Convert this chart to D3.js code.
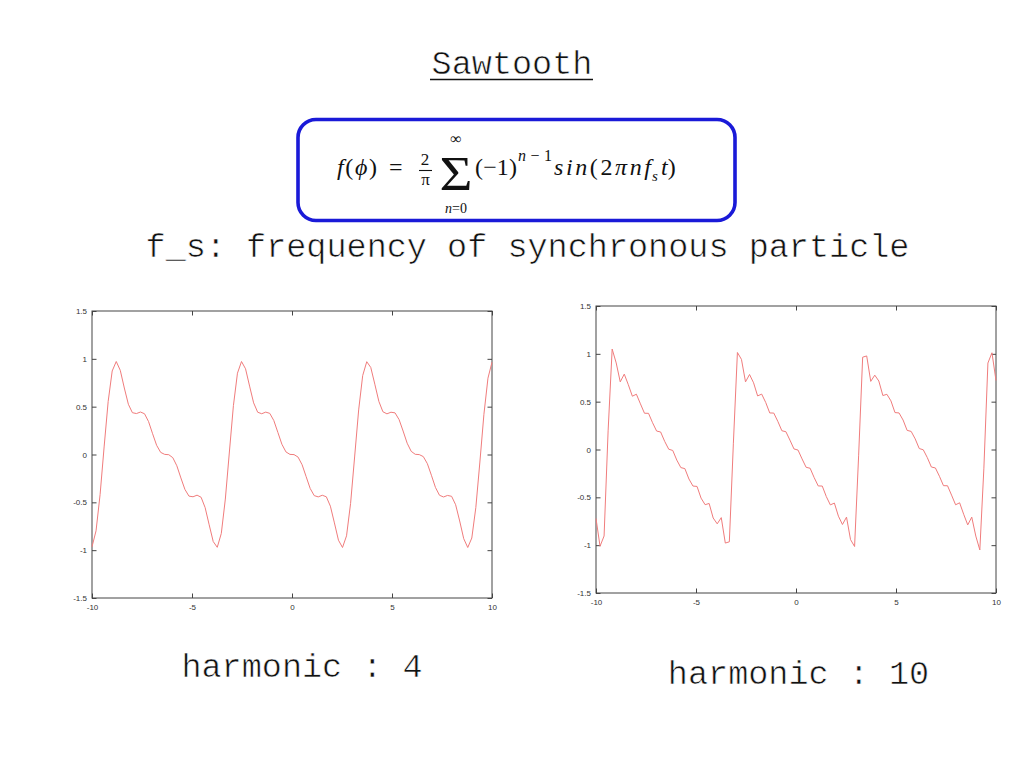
<!DOCTYPE html>
<html><head><meta charset="utf-8">
<script src="https://cdn.jsdelivr.net/npm/d3@7"></script>
<style>body{margin:0;background:#fff}svg{display:block}</style>
</head><body>
<svg id="c" width="1024" height="768"></svg>
<script>
// sample positions (100 samples over [-10, 10])
const xs = [-10,-9.798,-9.596,-9.394,-9.192,-8.990,-8.788,-8.586,-8.384,-8.182,
-7.980,-7.778,-7.576,-7.374,-7.172,-6.970,-6.768,-6.566,-6.364,-6.162,
-5.960,-5.758,-5.556,-5.354,-5.152,-4.949,-4.747,-4.545,-4.343,-4.141,
-3.939,-3.737,-3.535,-3.333,-3.131,-2.929,-2.727,-2.525,-2.323,-2.121,
-1.919,-1.717,-1.515,-1.313,-1.111,-0.909,-0.707,-0.505,-0.303,-0.101,
0.101,0.303,0.505,0.707,0.909,1.111,1.313,1.515,1.717,1.919,
2.121,2.323,2.525,2.727,2.929,3.131,3.333,3.535,3.737,3.939,
4.141,4.343,4.545,4.747,4.949,5.152,5.354,5.556,5.758,5.960,
6.162,6.364,6.566,6.768,6.970,7.172,7.374,7.576,7.778,7.980,
8.182,8.384,8.586,8.788,8.990,9.192,9.394,9.596,9.798,10];

// left panel: harmonic 4
const harmonic4 = [-0.965,-0.798,-0.420,0.079,0.554,0.873,0.972,0.880,0.695,0.525,
0.437,0.428,0.444,0.426,0.344,0.217,0.096,0.022,0.001,-0.002,
-0.033,-0.118,-0.245,-0.365,-0.435,-0.442,-0.425,-0.447,-0.555,-0.735,
-0.910,-0.970,-0.825,-0.466,0.026,0.511,0.850,0.972,0.896,0.715,
0.540,0.442,0.426,0.443,0.430,0.355,0.231,0.107,0.027,0.001,
-0.001,-0.027,-0.107,-0.231,-0.355,-0.430,-0.443,-0.426,-0.442,-0.540,
-0.715,-0.896,-0.972,-0.850,-0.511,-0.026,0.466,0.825,0.970,0.910,
0.735,0.555,0.447,0.425,0.442,0.435,0.365,0.245,0.118,0.033,
0.002,-0.001,-0.022,-0.096,-0.217,-0.344,-0.426,-0.444,-0.428,-0.437,
-0.525,-0.695,-0.880,-0.972,-0.873,-0.554,-0.079,0.420,0.798,0.965];

// right panel: harmonic 10
const harmonic10 = [-0.721,-1.011,-0.904,0.195,1.050,0.905,0.707,0.788,0.677,0.557,
0.578,0.477,0.379,0.378,0.280,0.193,0.183,0.085,0.003,-0.010,
-0.111,-0.189,-0.200,-0.308,-0.382,-0.386,-0.508,-0.577,-0.564,-0.716,
-0.777,-0.712,-0.978,-0.965,0.066,1.014,0.942,0.707,0.784,0.697,
0.560,0.579,0.492,0.382,0.381,0.294,0.196,0.186,0.098,0.006,
-0.006,-0.098,-0.186,-0.196,-0.294,-0.381,-0.382,-0.492,-0.579,-0.560,
-0.697,-0.784,-0.707,-0.942,-1.014,-0.066,0.965,0.978,0.712,0.777,
0.716,0.564,0.577,0.508,0.386,0.382,0.308,0.200,0.189,0.111,
0.010,-0.003,-0.085,-0.183,-0.193,-0.280,-0.378,-0.379,-0.477,-0.578,
-0.557,-0.677,-0.788,-0.707,-0.905,-1.050,-0.195,0.904,1.011,0.721];

const xTicks = [-10,-5,0,5,10];
const xTickLabels = ["-10","-5","0","5","10"];
const yTicks = [-1.5,-1,-0.5,0,0.5,1,1.5];
const yTickLabels = ["-1.5","-1","-0.5","0","0.5","1","1.5"];
const panelLabels = ["harmonic : 4","harmonic : 10"];
const titleText = "Sawtooth";
const noteText = "f_s: frequency of synchronous particle";

const svg = d3.select("#c");
svg.append("rect").attr("width",1024).attr("height",768).attr("fill","#fff");

const mono = "'Liberation Mono', 'DejaVu Sans Mono', monospace";
const serif = "'Liberation Serif', 'DejaVu Serif', serif";

function monoText(x, y, txt) {
  return svg.append("text").attr("x",x).attr("y",y).attr("text-anchor","middle")
    .attr("font-family",mono).attr("font-size",33.5).attr("fill","#111")
    .attr("stroke","#fff").attr("stroke-width",0.6).text(txt);
}

// Title
monoText(512, 73.5, titleText);
svg.append("line").attr("x1",430).attr("x2",593).attr("y1",79.5).attr("y2",79.5)
  .attr("stroke","#111").attr("stroke-width",1.5);

// Formula box
svg.append("rect").attr("x",298).attr("y",119.5).attr("width",437).attr("height",101)
  .attr("rx",18).attr("fill","#fff").attr("stroke","#1a1ad8").attr("stroke-width",3.6);

const fg = svg.append("g").attr("font-family",serif).attr("fill","#111");
const t1 = fg.append("text").attr("x",337).attr("y",175).attr("font-size",24)
  .attr("textLength",40).attr("lengthAdjust","spacing");
t1.append("tspan").attr("font-style","italic").text("f");
t1.append("tspan").text("(");
t1.append("tspan").attr("font-style","italic").text("ϕ");
t1.append("tspan").text(")");
fg.append("text").attr("x",389).attr("y",175).attr("font-size",24).text("=");
fg.append("text").attr("x",425).attr("y",164.5).attr("font-size",17).attr("text-anchor","middle").text("2");
fg.append("line").attr("x1",419).attr("x2",432).attr("y1",170.5).attr("y2",170.5).attr("stroke","#111").attr("stroke-width",1.1);
fg.append("text").attr("x",425.5).attr("y",185).attr("font-size",17).attr("text-anchor","middle").text("π");
// summation sign and limits
fg.append("text").attr("x",456).attr("y",190).attr("font-size",48).attr("text-anchor","middle")
  .attr("textLength",33).attr("lengthAdjust","spacingAndGlyphs").text("Σ");
fg.append("text").attr("x",456).attr("y",143.5).attr("font-size",16).attr("text-anchor","middle").text("∞");
const t2 = fg.append("text").attr("x",456).attr("y",213).attr("font-size",14).attr("text-anchor","middle");
t2.append("tspan").attr("font-style","italic").text("n");
t2.append("tspan").text("=0");
fg.append("text").attr("x",475).attr("y",175).attr("font-size",24)
  .attr("textLength",42).attr("lengthAdjust","spacing").text("(−1)");
const t3 = fg.append("text").attr("x",518).attr("y",161).attr("font-size",16)
  .attr("textLength",34).attr("lengthAdjust","spacing");
t3.append("tspan").attr("font-style","italic").text("n");
t3.append("tspan").text("−1");
const t4 = fg.append("text").attr("x",554).attr("y",175).attr("font-size",24)
  .attr("textLength",97).attr("lengthAdjust","spacing");
t4.append("tspan").attr("font-style","italic").text("sin");
t4.append("tspan").text("(2");
t4.append("tspan").attr("font-style","italic").text("πnf");
fg.append("text").attr("x",652).attr("y",181).attr("font-size",15).attr("font-style","italic").text("s");
const t5 = fg.append("text").attr("x",661).attr("y",175).attr("font-size",24);
t5.append("tspan").attr("font-style","italic").text("t");
t5.append("tspan").text(")");

// note line
monoText(527.5, 257, noteText);

// panels
const panels = [
  {l:92, r:492, t:311, b:598, ys:harmonic4, label:panelLabels[0], lx:302, ly:677},
  {l:596, r:996, t:306, b:593, ys:harmonic10, label:panelLabels[1], lx:798.5, ly:684}
];

function styleAxis(sel){
  sel.select(".domain").remove();
  sel.selectAll(".tick line").attr("stroke","#444").attr("stroke-width",1);
  sel.selectAll(".tick text").attr("font-family","'Liberation Sans', Arial, sans-serif")
     .attr("font-size",8).attr("fill","#333");
}

panels.forEach(p => {
  const g = svg.append("g");
  const x = d3.scaleLinear().domain([-10,10]).range([p.l,p.r]);
  const y = d3.scaleLinear().domain([-1.5,1.5]).range([p.b,p.t]);
  const fx = d => xTickLabels[xTicks.indexOf(d)];
  const fy = d => yTickLabels[yTicks.indexOf(d)];
  const none = () => "";
  g.append("g").attr("transform",`translate(0,${p.b})`)
    .call(d3.axisBottom(x).tickValues(xTicks).tickFormat(fx).tickSizeInner(-4.5).tickSizeOuter(0).tickPadding(6)).call(styleAxis);
  g.append("g").attr("transform",`translate(0,${p.t})`)
    .call(d3.axisTop(x).tickValues(xTicks).tickFormat(none).tickSizeInner(-4.5).tickSizeOuter(0)).call(styleAxis);
  g.append("g").attr("transform",`translate(${p.l},0)`)
    .call(d3.axisLeft(y).tickValues(yTicks).tickFormat(fy).tickSizeInner(-4.5).tickSizeOuter(0).tickPadding(5)).call(styleAxis);
  g.append("g").attr("transform",`translate(${p.r},0)`)
    .call(d3.axisRight(y).tickValues(yTicks).tickFormat(none).tickSizeInner(-4.5).tickSizeOuter(0)).call(styleAxis);
  g.append("rect").attr("x",p.l).attr("y",p.t).attr("width",p.r-p.l).attr("height",p.b-p.t)
    .attr("fill","none").attr("stroke","#444").attr("stroke-width",1);
  const line = d3.line().x((d,i) => x(xs[i])).y(d => y(d));
  g.append("path").datum(p.ys).attr("d",line).attr("fill","none")
    .attr("stroke","#f07c7c").attr("stroke-width",1);
  monoText(p.lx, p.ly, p.label);
});
</script>
</body></html>
